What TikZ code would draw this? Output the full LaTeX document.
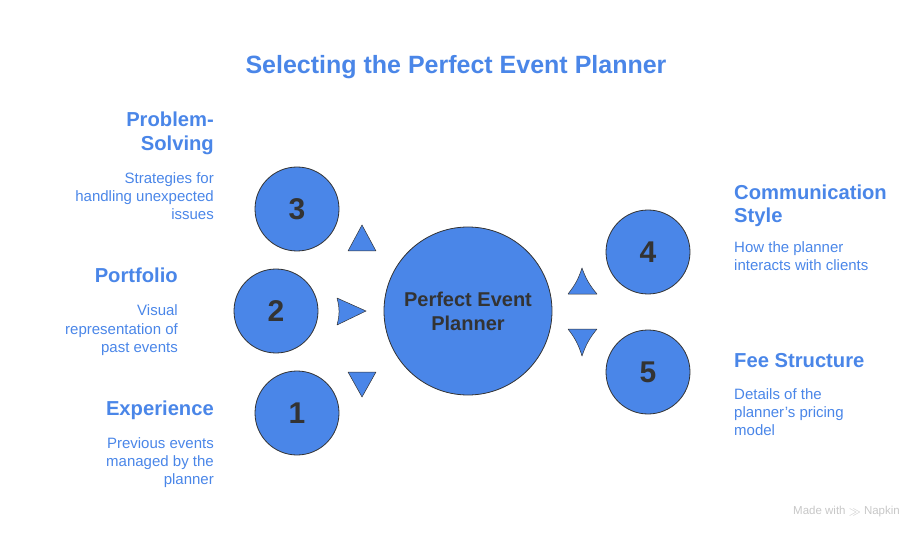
\documentclass[tikz,border=0pt]{standalone}
\usepackage{fontspec}
\setmainfont{Liberation Sans}
\definecolor{napblue}{HTML}{4A86E8}
\definecolor{napdark}{HTML}{333333}
\tikzset{
  ball/.style={circle,draw=napdark,line width=0.8pt,fill=napblue,inner sep=0pt},
  numtext/.style={font=\bfseries\fontsize{30}{30}\selectfont,text=napdark},
  headtext/.style={inner sep=0pt,font=\bfseries\fontsize{20.2}{24}\selectfont,text=napblue},
  desctext/.style={inner sep=0pt,font=\fontsize{15}{18}\selectfont,text=napblue},
  wedge/.style={fill=napblue,draw=napdark,line width=0.5pt,line join=round}
}
\begin{document}
\begin{tikzpicture}[x=1pt,y=-1pt]
    \useasboundingbox (0,0) rectangle (924,540);
    \node at (456,73.5) [anchor=base,inner sep=0pt,font=\bfseries\fontsize{25}{28}\selectfont,text=napblue] (title) {Selecting the Perfect Event Planner};
    % circles
    \node at (468,311) [ball,minimum size=168pt,font=\bfseries\fontsize{20}{24}\selectfont,text=napdark,align=center] (hub) {Perfect Event\\Planner};
    \node at (297,209) [ball,minimum size=84pt,numtext] (c3) {3};
    \node at (276,311) [ball,minimum size=84pt,numtext] (c2) {2};
    \node at (297,413) [ball,minimum size=84pt,numtext] (c1) {1};
    \node at (648,252) [ball,minimum size=84pt,numtext] (c4) {4};
    \node at (648,372) [ball,minimum size=84pt,numtext] (c5) {5};
    % pointers
    \draw[wedge] (348,251)--(376,251)--(362,225)--cycle;
    \draw[wedge] (337,298)--(366,311)--(337,325) to[bend right=15] cycle;
    \draw[wedge] (348,372)--(376,372)--(362,397)--cycle;
    \draw[wedge] (568,294)--(597,294) to[bend left=10] (582,268) to[bend left=10] cycle;
    \draw[wedge] (568,329)--(597,329) to[bend right=10] (582,356) to[bend right=10] cycle;
    % left labels (base = last line)
    \node at (214,151) [anchor=base east,align=right,headtext] (h3) {Problem-\\Solving};
    \node at (214,220) [anchor=base east,align=right,desctext] (d3) {Strategies for\\handling unexpected\\issues};
    \node at (178,283) [anchor=base east,align=right,headtext] (h2) {Portfolio};
    \node at (178,352) [anchor=base east,align=right,desctext] (d2) {Visual\\representation of\\past events};
    \node at (214,415) [anchor=base east,align=right,headtext] (h1) {Experience};
    \node at (214,484) [anchor=base east,align=right,desctext] (d1) {Previous events\\managed by the\\planner};
    % right labels
    \node at (734,223) [anchor=base west,align=left,headtext] (h4) {Communication\\Style};
    \node at (734,271) [anchor=base west,align=left,desctext] (d4) {How the planner\\interacts with clients};
    \node at (734,367) [anchor=base west,align=left,headtext] (h5) {Fee Structure};
    \node at (734,435) [anchor=base west,align=left,desctext] (d5) {Details of the\\planner's pricing\\model};
    \node at (900,512) [anchor=east,inner sep=0pt,font=\fontsize{11.5}{13}\selectfont,text=black!22] (mark) {Made with \raisebox{-0.5pt}{$\gg$} Napkin};
\end{tikzpicture}
\end{document}
